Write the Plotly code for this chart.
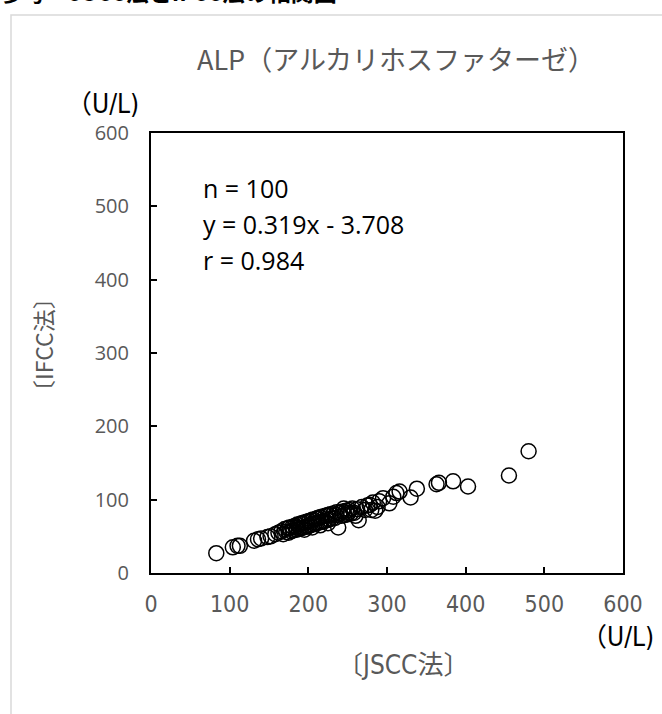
import plotly.graph_objects as go

# ---- data (JSCC method vs IFCC method, U/L) ----
jscc = [83, 104, 110, 113, 131, 136, 140, 148, 152, 158, 162, 166,
        168, 170, 172, 174, 175, 176, 178, 180, 181, 183, 185, 186, 188, 190,
        191, 192, 194, 195, 197, 198, 200, 201, 202, 204, 205, 206, 208, 210,
        211, 212, 214, 215, 217, 218, 220, 222, 224, 225, 226, 228, 230, 232,
        234, 236, 238, 240, 242, 244, 246, 248, 250, 252, 254, 256, 258, 260,
        262, 264, 268, 272,
        278, 285, 295, 303, 308, 312, 316, 330, 338, 363, 366, 384, 403, 455, 480,
        275, 280, 282, 288, 290, 245, 235, 225, 215, 205, 195, 185, 250]
ifcc = [27, 35, 37, 37, 44, 46, 47, 49, 50, 53, 55, 57,
        53, 60, 56, 61, 55, 62, 57, 63, 58, 64, 59, 66, 60, 67,
        61, 68, 62, 69, 63, 70, 64, 71, 65, 72, 66, 73, 67, 74,
        68, 75, 69, 76, 70, 77, 71, 78, 72, 79, 73, 80, 74, 81,
        75, 83, 62, 82, 78, 84, 79, 85, 80, 86, 81, 88, 82, 78,
        87, 72, 90, 86,
        93, 85, 102, 95, 104, 109, 111, 103, 115, 121, 123, 125, 118, 133, 166,
        92, 86, 96, 90, 98, 88, 79, 68, 65, 62, 59, 62, 82]

x_ticks = [0, 100, 200, 300, 400, 500, 600]
y_ticks = [0, 100, 200, 300, 400, 500, 600]

title_text = "ALP（アルカリホスファターゼ）"
page_heading = "参考　JSCC法とIFCC法の相関図"
stats_lines = ["n = 100", "y = 0.319x - 3.708", "r = 0.984"]

# ---- layout geometry (pixels) ----
W, H = 662, 714
L, R, T, B = 151, 623, 133, 573


def px(x):
    return (x - L) / (R - L)


def py(y):
    return (B - y) / (B - T)


GREY = "#595959"
JP = "Noto Sans CJK JP"
NARROW = "Liberation Sans Narrow, DejaVu Sans Condensed, " + JP

fig = go.Figure()
fig.add_trace(go.Scatter(
    x=jscc, y=ifcc, mode="markers",
    marker=dict(symbol="circle-open", size=15, color="black",
                line=dict(width=1.5, color="black")),
    showlegend=False, hoverinfo="x+y",
))

axis_common = dict(
    range=[0, 600], showgrid=False, zeroline=False,
    showline=True, linecolor="black", linewidth=2, mirror=True,
    ticks="inside", ticklen=6, tickwidth=1.5, tickcolor="black",
)

fig.update_xaxes(**axis_common, tickvals=x_ticks,
                 tickfont=dict(family=NARROW, size=23, color=GREY),
                 ticklabelstandoff=9)
fig.update_yaxes(**axis_common, tickvals=y_ticks,
                 tickfont=dict(family="Open Sans, " + JP, size=20, color=GREY),
                 ticklabelstandoff=16)

annotations = [
    dict(text=title_text, x=px(396), y=py(58), xref="paper", yref="paper",
         showarrow=False, font=dict(family=JP, size=27, color=GREY),
         xanchor="center", yanchor="middle"),
    dict(text="（U/L)", x=px(64), y=py(104), xref="paper", yref="paper",
         showarrow=False, font=dict(family=NARROW, size=26, color="black"),
         xanchor="left", yanchor="middle"),
    dict(text="（U/L)", x=px(656), y=py(637), xref="paper", yref="paper",
         showarrow=False, font=dict(family=NARROW, size=26, color="black"),
         xanchor="right", yanchor="middle"),
    dict(text="〔JSCC法〕", x=px(403), y=py(665), xref="paper", yref="paper",
         showarrow=False, font=dict(family=NARROW, size=26, color=GREY),
         xanchor="center", yanchor="middle"),
    dict(text="〔IFCC法〕", x=px(43), y=py(345), xref="paper", yref="paper",
         showarrow=False, textangle=-90, font=dict(family=JP, size=23, color=GREY),
         xanchor="center", yanchor="middle"),
    dict(text="<b>" + page_heading + "</b>", x=px(-2), y=py(-9), xref="paper", yref="paper",
         showarrow=False, font=dict(family=JP, size=23, color="black"),
         xanchor="left", yanchor="middle"),
]
for i, line in enumerate(stats_lines):
    annotations.append(dict(
        text=line, x=px(201), y=py(188 + 36 * i), xref="paper", yref="paper",
        showarrow=False, font=dict(family="Open Sans", size=25, color="black"),
        xanchor="left", yanchor="middle"))

fig.update_layout(
    width=W, height=H,
    margin=dict(l=L, r=W - R, t=T, b=H - B, pad=0),
    paper_bgcolor="white", plot_bgcolor="white",
    annotations=annotations,
    shapes=[dict(type="rect", xref="paper", yref="paper",
                 x0=px(11), x1=px(680), y0=py(15), y1=py(730),
                 line=dict(color="#d9d9d9", width=1.5), layer="below")],
)

fig.write_html("out.html", config={"displayModeBar": False},
               post_script="document.body.style.margin='0';")
